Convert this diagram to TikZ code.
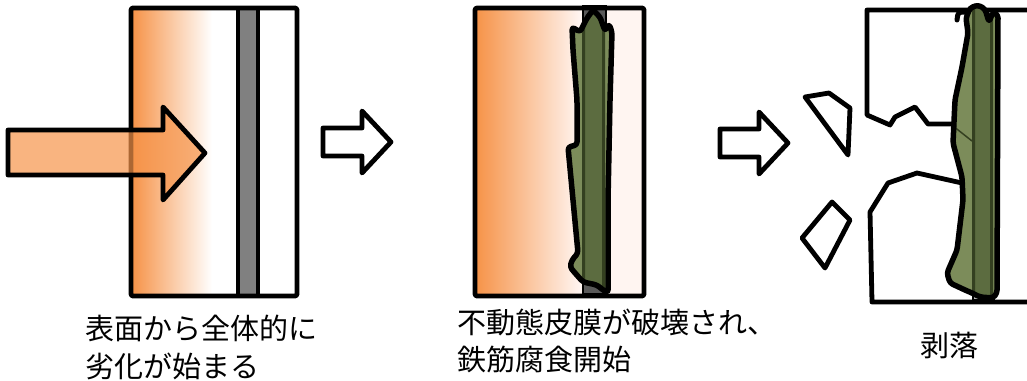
\documentclass[tikz,border=0pt]{standalone}
\usepackage{fontspec}
\setmainfont{Noto Sans CJK JP}
\usepackage{tikz}
\usetikzlibrary{positioning}
\definecolor{decay}{RGB}{246,148,74}
\definecolor{paleconc}{RGB}{255,245,241}
\definecolor{rebargray}{RGB}{128,128,128}
\definecolor{rustlight}{RGB}{124,140,90}
\definecolor{rustdark}{RGB}{92,108,64}
\definecolor{rustedge}{RGB}{52,64,32}

\begin{document}
\begin{tikzpicture}[x=1pt, y=-1pt,
    outline/.style={draw=black, line width=4.8pt, line join=round},
    caption/.style={font=\fontsize{29pt}{37pt}\selectfont, inner sep=0pt, anchor=base west},
    hollow arrow/.pic={\draw[outline, fill=white] (0,-14) -- (39,-14) -- (39,-31) -- (68,0) -- (39,31) -- (39,14) -- (0,14) -- cycle;}]
  \useasboundingbox (0,0) rectangle (1027,380);

  % stage 1: sound concrete, attack from the surface
  \shade[left color=decay, middle color=decay!50, right color=white] (133,10) rectangle (212,294);
  \draw[outline, fill=rebargray] (238,8) rectangle (258,296);
  \draw[outline, rounded corners=2pt] (131,8) rectangle (297,296);
  \draw[outline, fill=decay, fill opacity=0.7] (8,130) -- (163,130) -- (163,107) -- (205,153)
      -- (163,200) -- (163,175) -- (8,175) -- cycle;

  \pic (step1) at (323,142) {hollow arrow};

  % stage 2: passive film broken, rebar starts to rust
  \fill[paleconc] (477,10) rectangle (642,294);
  \shade[left color=decay, right color=paleconc] (477,10) rectangle (580,294);
  \draw[black, line width=2.5pt, fill=rebargray!70!black] (583,6) rectangle (606,294);
  \draw[outline, rounded corners=2pt] (475,8) rectangle (644,296);
  \draw[outline, line width=5.5pt, fill=rustlight, rounded corners=3pt, path picture={
      \fill[rustdark] (584,0) rectangle (604,300);
      \fill[rustedge] (582,0) rectangle (585,300) (602,0) rectangle (605,300);
    }] (572,27) -- (580,32) -- (587,18) -- (593,10) -- (600,17) -- (605,31) -- (609,24)
      -- (612,32) -- (610,100) -- (608,200) -- (608,293) -- (603,290) -- (597,285)
      -- (583,282) -- (575,273) -- (570,267) -- (572,260) -- (578,253) -- (573,200)
      -- (568,147) -- (577,145) -- (577,100) -- (573,50) -- cycle;

  \pic (step2) at (720,143) {hollow arrow};

  % stage 3: cover spalls off
  \draw[black, line width=2.5pt, fill=rebargray!60] (973,10) rectangle (994,300);
  \draw[outline] (1030,10) -- (867,10) -- (867,115) -- (890,125) -- (895,117) -- (915,107)
      -- (928,124) -- (955,124);
  \draw[outline] (962,183) -- (917,173) -- (888,183) -- (870,212) -- (872,302) -- (1030,302);
  \draw[outline] (805,97) -- (829,93) -- (850,108) -- (848,155) -- cycle;
  \draw[outline] (832,202) -- (850,220) -- (825,268) -- (802,238) -- cycle;
  \draw[outline, line width=5.5pt, fill=rustlight, rounded corners=3pt, path picture={
      \fill[rustdark] (974,0) rectangle (992,310);
      \fill[rustedge] (972,0) rectangle (975,310) (990,0) rectangle (993,310);
      \draw[rustedge, line width=1.5pt] (953,126) -- (972,141);
    }] (966,18) -- (970,8) -- (978,5) -- (985,9) -- (989,22) -- (993,12) -- (998,15)
      -- (997,293) -- (993,298) -- (980,297) -- (972,293) -- (965,290) -- (950,283)
      -- (947,273) -- (957,250) -- (963,200) -- (962,177) -- (953,143) -- (955,100)
      -- (962,67) -- (968,33) -- cycle;
  \draw[black, line width=5pt, line cap=round] (957,20) .. controls (958,12) .. (966,12);

  % captions
  \node[caption] (cause1) at (85,339) {表面から全体的に};
  \node[caption] (cause2) at ([yshift=-38pt]cause1.base west) {劣化が始まる};
  \node[caption] (rust1) at (457,333) {不動態皮膜が破壊され、};
  \node[caption] (rust2) at ([yshift=-37pt]rust1.base west) {鉄筋腐食開始};
  \node[caption] (spall) at (920,356) {剥落};
\end{tikzpicture}
\end{document}
